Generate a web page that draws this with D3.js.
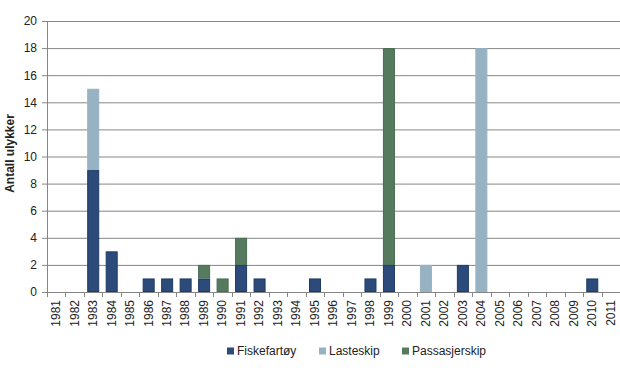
<!DOCTYPE html>
<html>
<head>
<meta charset="utf-8">
<script src="https://cdn.jsdelivr.net/npm/d3@7"></script>
<style>
  body { margin: 0; background: #fff; }
</style>
</head>
<body>
<div id="chart"></div>
<script>
// years on the x axis
const years = d3.range(1981, 2012).map(String);
// accidents per year, per ship type
const fiskefartoy   = [0,0,9,3,0,1,1,1,1,0,2,1,0,0,1,0,0,1,2,0,0,0,2,0,0,0,0,0,0,1,0];
const lasteskip     = [0,0,6,0,0,0,0,0,0,0,0,0,0,0,0,0,0,0,0,0,2,0,0,18,0,0,0,0,0,0,0];
const passasjerskip = [0,0,0,0,0,0,0,0,1,1,2,0,0,0,0,0,0,0,16,0,0,0,0,0,0,0,0,0,0,0,0];
const seriesNames = ["Fiskefartøy", "Lasteskip", "Passasjerskip"];
const colors = ["#2c4a7a", "#97b2c2", "#567a5e"];
const strokes = ["#1f3a66", "#97b2c2", "#4a6d52"];
const yTicks = [0, 2, 4, 6, 8, 10, 12, 14, 16, 18, 20];

const font = "Liberation Sans, Arial, sans-serif";
const width = 620, height = 374;
const margin = { top: 21, right: 0, bottom: 82, left: 47 };
const innerWidth = width - margin.left - margin.right;
const innerHeight = height - margin.top - margin.bottom;

const svg = d3.select("#chart").append("svg")
    .attr("width", width)
    .attr("height", height)
    .attr("font-family", font)
    .attr("font-size", 12)
    .style("display", "block");

const g = svg.append("g")
    .attr("transform", `translate(${margin.left}, ${margin.top})`);

const table = years.map((yr, i) => ({
    year: yr,
    "Fiskefartøy": fiskefartoy[i],
    "Lasteskip": lasteskip[i],
    "Passasjerskip": passasjerskip[i]
}));
const stacked = d3.stack().keys(seriesNames)(table);

const x = d3.scaleBand()
    .domain(years)
    .range([0, innerWidth])
    .paddingInner(0.35)
    .paddingOuter(0.175);

const y = d3.scaleLinear()
    .domain([0, 20])
    .range([innerHeight, 0]);

// horizontal grid
g.append("g")
    .selectAll("line")
    .data(yTicks.slice(1))
    .join("line")
    .attr("x1", 0)
    .attr("x2", innerWidth)
    .attr("y1", d => y(d) + 0.5)
    .attr("y2", d => y(d) + 0.5)
    .attr("stroke", "#868686")
    .attr("stroke-width", 1);

// bars
g.append("g")
    .selectAll("g")
    .data(stacked)
    .join("g")
    .attr("fill", (d, i) => colors[i])
    .attr("stroke", (d, i) => strokes[i])
    .selectAll("rect")
    .data(d => d.filter(v => v[1] > v[0]))
    .join("rect")
    .attr("x", d => x(d.data.year) + 0.5)
    .attr("y", d => y(d[1]) + 0.5)
    .attr("width", x.bandwidth() - 1)
    .attr("height", d => y(d[0]) - y(d[1]) - 1)
    .attr("stroke-width", 1);

// y axis
const yAxis = g.append("g")
    .call(d3.axisLeft(y).tickValues(yTicks).tickSize(5).tickPadding(5));
yAxis.attr("font-family", font).attr("font-size", 12);
yAxis.select(".domain").attr("stroke", "#868686");
yAxis.selectAll(".tick line").attr("stroke", "#868686");
yAxis.selectAll(".tick text").attr("fill", "#222");

// x axis: ticks at band edges, labels rotated
const xAxisG = g.append("g")
    .attr("transform", `translate(0, ${innerHeight})`);
xAxisG.append("line")
    .attr("x1", 0).attr("x2", innerWidth)
    .attr("y1", 0.5).attr("y2", 0.5)
    .attr("stroke", "#868686");
const step = x.step();
xAxisG.selectAll("line.tk")
    .data(d3.range(years.length + 1))
    .join("line")
    .attr("class", "tk")
    .attr("x1", i => Math.round(i * step) + 0.5)
    .attr("x2", i => Math.round(i * step) + 0.5)
    .attr("y1", 0)
    .attr("y2", 5)
    .attr("stroke", "#868686");
xAxisG.selectAll("g.lbl")
    .data(years)
    .join("g")
    .attr("class", "lbl")
    .attr("transform", d => `translate(${x(d) + x.bandwidth() / 2}, 8)`)
    .append("text")
    .attr("transform", "rotate(-90)")
    .attr("x", 0)
    .attr("y", 0)
    .attr("dy", "0.32em")
    .attr("text-anchor", "end")
    .attr("fill", "#222")
    .text(d => d);

// y axis title
svg.append("g")
    .attr("transform", `translate(10, ${margin.top + innerHeight / 2 - 3})`)
    .append("text")
    .attr("transform", "rotate(-90)")
    .attr("x", 0)
    .attr("y", 0)
    .attr("dy", "0.32em")
    .attr("text-anchor", "middle")
    .attr("font-weight", "bold")
    .attr("fill", "#222")
    .text("Antall ulykker");

// legend
const legendX = [227, 319, 402];
const legend = svg.append("g")
    .selectAll("g")
    .data(seriesNames)
    .join("g")
    .attr("transform", (d, i) => `translate(${legendX[i]}, 351)`);
legend.append("rect")
    .attr("x", 0).attr("y", -3.5)
    .attr("width", 7).attr("height", 7)
    .attr("fill", (d, i) => colors[i]);
legend.append("text")
    .attr("x", 10)
    .attr("y", 0)
    .attr("dy", "0.36em")
    .attr("fill", "#222")
    .text(d => d);
</script>
</body>
</html>
